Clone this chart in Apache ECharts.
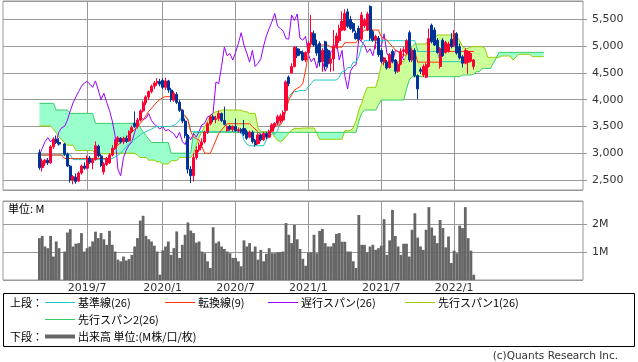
<!DOCTYPE html>
<html><head><meta charset="utf-8">
<script src="https://cdn.jsdelivr.net/npm/echarts@6/dist/echarts.min.js"></script>
<style>html,body{margin:0;padding:0;background:#fff}#c{width:638px;height:362px}</style>
</head><body><div id="c"></div>
<script>
// ---- axis / time frame ----
const START_DATE = '2018-12-03';   // first weekly slot at left edge
const WEEK_COUNT = 208;            // weekly slots across the plot
const FIRST = 13;                  // slot of first candle / indicator value
const CHIKOU_SHIFT = 25;
const tickLabels = ['2019/7','2020/1','2020/7','2021/1','2021/7','2022/1'];
const priceTicks = [2500,3000,3500,4000,4500,5000,5500];
const volumeTicks = [1,2];

// ---- weekly candles (from slot FIRST) ----
const opens = [3010,2730,2820,2870,2820,3120,3260,3200,'-',3170,2980,2760,2500,2550,2480,2630,2760,2720,2910,2820,2880,3130,2950,2650,2790,2820,
2966,3091,3215,3280,3210,3280,3230,3400,3560,3500,3620,3790,3940,4050,4150,4250,4310,4340,4360,4230,4350,4180,3990,4100,3950,3800,3600,3330,2700,2580,2920,3060,3150,3210,3390,3550,3680,3630,3650,3740,
3610,3420,3500,3440,3500,3420,3440,3460,3400,3300,3390,3240,3180,3340,3250,3370,3300,3410,3500,3560,3600,3620,3800,4420,4500,4620,4950,4900,4880,4740,4880,5050,
5230,5020,5050,4710,5080,4920,4680,4760,5000,5100,5300,5300,5640,5500,5420,5240,5330,5130,5380,5300,5740,5270,5110,5150,4920,4700,4700,4600,4900,4740,4530,4660,4900,4870,5250,4740,4920,4450,4560,4460,4420,4620,5390,5300,5110,4620,5110,4880,4900,5130,5000,5230,4990,4800,4680,4700,4720,4620];
const highs = [3070,2900,2890,2910,3150,3300,3330,3280,'-',3190,3010,2780,2590,2620,2660,2790,2830,2960,2950,2910,3220,3160,2990,2830,2930,3000,
3150,3260,3320,3300,3310,3330,3430,3520,3780,3660,3820,3980,4080,4170,4280,4350,4400,4390,4400,4410,4370,4220,4160,4140,3990,3820,3650,3360,2760,3000,3130,3200,3280,3420,3580,3720,3720,3700,3800,3760,
3870,3520,3530,3520,3650,3480,3470,3620,3440,3420,3420,3270,3380,3370,3400,3400,3440,3560,3580,3720,3740,3800,4360,4450,4680,5000,4990,4950,4920,4900,5100,5580,
5290,5120,5090,4960,5100,4950,4860,5300,5250,5400,5650,5690,5700,5560,5450,5290,5380,5640,5520,5640,5760,5300,5210,5190,4960,4800,4740,4870,4940,4760,4700,4960,4980,5130,5290,4960,4960,4470,4600,4660,4680,5330,5420,5350,5150,4980,5150,5100,5080,5240,5300,5260,5050,4830,4960,4920,4880,4760];
const lows = [2690,2660,2760,2780,2800,3080,3170,3140,'-',2950,2740,2450,2420,2430,2460,2600,2690,2700,2800,2700,2860,2920,2740,2600,2760,2800,
2940,3060,3160,3180,3170,3190,3210,3370,3470,3460,3590,3760,3900,3990,4120,4200,4260,4250,4200,4180,4130,3960,3960,3920,3770,3560,3280,2620,2440,2470,2880,3020,3100,3180,3360,3520,3580,3560,3600,3580,
3520,3400,3420,3400,3400,3380,3370,3320,3250,3280,3180,3120,3160,3220,3230,3260,3280,3390,3460,3520,3560,3590,3780,4250,4480,4600,4780,4820,4720,4700,4850,5020,
4990,4820,4620,4520,4560,4600,4520,4530,4950,5060,5280,5280,5340,5300,5250,5120,5100,5100,5340,5280,5100,5080,4950,4800,4680,4640,4560,4580,4690,4480,4500,4640,4800,4850,4700,4700,4420,4010,4480,4420,4400,4600,5050,5000,4860,4580,4800,4860,4880,4960,4980,4840,4750,4600,4660,4480,4700,4560];
const closes = [2730,2850,2870,2820,3120,3260,3200,3170,'-',2980,2760,2500,2560,2470,2630,2760,2720,2910,2830,2880,3140,2950,2770,2800,2900,2966,
3091,3215,3290,3210,3280,3220,3400,3480,3500,3620,3790,3940,4050,4150,4250,4310,4340,4290,4230,4350,4180,4000,4120,3950,3800,3600,3330,2700,2580,2920,3060,3150,3210,3390,3550,3680,3630,3650,3740,3610,
3540,3500,3450,3500,3420,3440,3400,3360,3280,3390,3220,3160,3340,3250,3370,3300,3410,3530,3560,3680,3700,3760,4330,4300,4620,4980,4820,4860,4740,4880,5050,5250,
5020,4870,4700,4920,4620,4680,4760,5000,5190,5330,5460,5610,5370,5330,5280,5140,5130,5580,5480,5600,5150,5110,5180,4840,4710,4780,4590,4840,4720,4530,4660,4900,4930,5100,4740,4920,4450,4200,4530,4620,4650,5140,5080,5020,4880,4950,4820,5070,5040,4990,5230,4870,4780,4680,4920,4900,4860,4740];
// volume in millions (from slot FIRST)
const volumes = [1.50,1.58,1.20,1.14,1.58,0.84,1.38,1.14,0,1.02,1.70,1.82,1.20,1.30,1.32,1.68,1.02,1.14,
1.20,1.38,1.73,1.50,1.68,1.46,1.26,1.76,1.26,1.02,
0.73,0.67,0.84,0.70,0.75,0.90,1.20,1.50,2.13,2.30,
1.58,1.46,1.38,1.23,1.02,0.19,1.06,1.20,1.38,0.90,
1.14,1.74,0.79,1.26,1.62,2.06,1.77,1.68,1.34,1.38,
1.02,0.96,0.67,0.43,1.89,1.32,1.38,1.20,1.11,1.02,
0.96,0.79,0.79,0.67,0.49,1.42,1.20,1.32,1.02,1.20,
0.73,1.08,0.67,0.94,1.14,0.96,0.96,0.99,1.00,1.02,
2.04,1.62,1.32,1.97,1.46,1.11,0.76,0.51,0.99,0.99,
1.62,0.96,1.76,1.83,1.32,1.20,1.20,1.32,1.65,1.68,
1.37,1.37,1.02,1.02,0.67,0.43,2.33,1.26,1.26,0.99,
1.20,1.26,1.08,1.14,1.23,2.18,0.90,1.42,2.51,1.58,
1.20,0.90,1.30,1.30,0.84,1.80,2.39,1.52,1.20,1.08,
1.80,2.61,1.88,1.59,1.32,2.15,1.86,1.17,1.56,0.61,
1.05,0.96,1.95,1.86,2.61,1.50,1.05,0.19];

// ---- ichimoku lines (from slot FIRST) ----
const tenkan = [2966,2966,2966,2966,2966,2966,2966,2966,2966,
2900,2900,2900,2900,2900,2900,2900,2900,2900,2900,2900,2900,2900,2900,2900,2900,2900,
3029,3091,3153,3197,3247,3300,3340,3400,3440,3495,3560,3620,3700,3780,3840,3900,3960,4000,4040,
4056,4056,4056,4056,
3990,3900,3760,3700,3620,3402,3300,3270,3246,3122,3000,2997,2997,3122,3246,3371,3433,3500,
3550,3550,3550,3550,3550,3550,3550,3550,3550,
3500,3450,3402,3340,3340,3340,3371,3464,
3526,3526,3526,
3620,3806,3993,4087,4180,4210,4242,4304,4553,4864,5051,5082,
5020,5020,5020,5020,5020,
4980,4980,4980,4980,4980,
5063,5063,5063,5063,5063,
5150,5238,
5300,5300,5300,5300,5300,5300,
5176,5144,5113,5051,4990,4927,4895,4864,4833,4833,
4895,4895,4895,
4700,4700,4700,4700,4700,4700,4700,4700,4700,
4900,4900,4900,4900,4900,4900,4900,4900,4900,4900,4900,4900];
const kijun = [2966,2966,2966,2966,2966,2966,2966,2966,2966,
2970,2970,2970,
2880,2880,2880,2880,2880,2880,2880,2880,2880,2880,2880,2880,2880,2880,
2900,2930,2960,3000,3060,3120,3180,3230,3260,3300,3340,3380,3400,3430,3450,3480,
3500,3500,3500,3500,3500,3500,
3520,3560,3620,3680,3680,3650,
3402,3402,3402,3402,3402,3402,3402,3402,3402,3402,3402,3402,3402,3402,3402,3402,3402,3402,3402,
3250,3170,
3140,3140,3140,3140,3140,3140,
3250,3330,3360,3360,3420,3590,3700,3869,4055,4120,
4149,4149,
4170,4170,4170,
4240,4300,
4366,4366,4366,4366,4366,4366,4366,4366,4366,
4420,4522,4522,4600,4600,4700,4700,4802,5000,
5101,5101,5101,5101,5101,5101,5101,5101,5101,5101,5101,5101,5101,5101,5101,5101,5101,5101,5101,
4900,4900,4900,4900,4900,4900,4900,4900,
4709,4709,4709,4709,4709,4709,4709,4709,4709,4709,4709,4709,4709];
// leading spans, from slot FIRST to FIRST+180
const spanA = [3508,3508,3508,3508,3508,
3450,3380,3300,3250,3200,
3150,3150,3150,
3050,3050,3050,3050,3050,3050,3050,
2990,2990,2990,2990,2990,2990,
3000,3000,3000,3000,3000,3000,3000,3000,3000,
2960,
2920,2920,2920,
2870,2870,2870,
2840,2840,
2800,2800,2800,
2860,2860,2860,
2920,2920,2920,2920,2920,
3000,3150,3300,3400,3500,3600,3700,3744,
3775,3775,
3806,3806,3806,3806,3806,3806,3806,3806,
3775,3775,
3744,3744,3744,
3480,
3400,3400,3400,3400,3400,
3300,3240,3215,3246,3309,3371,3433,
3464,3464,3464,
3470,3470,3470,3470,3470,
3371,
3260,3260,3260,3260,3260,3260,3260,3260,3260,
3420,3420,3420,
3480,3600,3806,3931,4100,
4230,4230,4230,4230,
4400,4647,
4709,4709,4709,4709,4709,4709,4709,4709,
4850,4927,4989,
5040,5040,5040,5040,5040,
5130,5130,5130,
5207,5207,5207,5207,5207,5207,5207,
5176,5100,4989,
4958,4958,
4989,4989,4989,4989,4989,
4958,
4790,4790,4790,4790,4790,
4815,4815,4815,4815,
4740,4790,
4846,4846,4846,4846,4846,
4802,4802,4802,4802,4802];
const spanB = [3930,3930,3930,3930,3930,3930,
3807,3807,3807,3807,3807,
3744,3744,3744,3744,3744,3744,3744,3744,3744,
3557,3557,3557,3557,3557,3557,3557,3557,3557,3557,3557,3557,3557,3557,3557,3557,
3480,3400,3330,3260,
3200,3200,3200,3200,3200,3200,3200,
3000,3000,3000,3000,3000,3000,3000,3000,
3390,3390,3390,3390,3390,3390,3390,3390,3390,3390,3390,3390,3390,3390,3390,3390,3390,3390,3390,3390,
3390,3390,3390,3390,3390,3390,3390,3390,3390,3390,3390,3390,3390,3390,3390,3390,3390,3390,3390,3390,
3390,3390,3390,3390,3390,3390,3390,3390,3390,3390,3390,3390,3390,3390,3390,3390,3390,3390,3390,
3600,3744,
3806,3806,3806,3806,3806,
3900,
3993,3993,3993,3993,3993,3993,3993,3993,3993,
4200,4366,
4429,4429,4429,4429,4429,4429,4429,4429,4429,4429,4429,4429,4429,4429,4429,4429,4429,4429,
4460,4460,4460,4460,
4478,
4522,4522,
4584,4584,4584,4584,
4680,4771,
4883,4883,4883,4883,4883,4883,4883,4883,4883,4883,4883,4883,4883,4883,4883,4883,4883];

// ---- styling ----
const C = {
  grid:'#999999', up:'#ff0033', down:'#003399', vol:'#666666',
  kijun:'#1ec8c8', tenkan:'#ff3300', chikou:'#9900ff', spanA:'#99cc00', spanB:'#33cc66',
  cloudUp:'#ccff99', cloudDown:'#99ffcc', text:'#333333'
};
const AX_FONT = 'DejaVu Sans';
const JP_FONT = '"Noto Sans CJK JP"';

// ---- build ----
function pad(arr, start){ const out = new Array(WEEK_COUNT).fill('-'); arr.forEach((v,i)=>{ out[start+i] = v; }); return out; }
const weeks = [];
{ const d0 = new Date(START_DATE + 'T00:00:00Z');
  for (let i=0;i<WEEK_COUNT;i++){ const d = new Date(d0.getTime() + i*7*86400000);
    weeks.push({y:d.getUTCFullYear(), m:d.getUTCMonth()+1, d:d.getUTCDate()}); } }
const catData = weeks.map(w => w.y + '/' + w.m + '/' + w.d);
function monthLabel(i){ return weeks[i].y + '/' + weeks[i].m; }
function isTick(i){ return (i===0 || weeks[i].m !== weeks[i-1].m) && tickLabels.indexOf(monthLabel(i)) >= 0; }

const candleData = pad(opens.map((o,i)=> o==='-' ? '-' : [o, closes[i], lows[i], highs[i]]), FIRST);
const volData = pad(volumes.map(v => v===0 ? '-' : v), FIRST);
const chikouData = new Array(WEEK_COUNT).fill('-');
for (let i=FIRST;i<WEEK_COUNT;i++){ const k = i + CHIKOU_SHIFT - FIRST; if (k < closes.length && closes[k] !== '-') chikouData[i] = closes[k]; }
const cloudBase = pad(spanA.map((a,i)=>Math.min(a, spanB[i])), FIRST);
const cloudUp = pad(spanA.map((a,i)=>Math.max(a - spanB[i], 0)), FIRST);
const cloudDown = pad(spanA.map((a,i)=>Math.max(spanB[i] - a, 0)), FIRST);

function fmtNum(v){ return String(v).replace(/\B(?=(\d{3})+(?!\d))/g, ','); }

function lineSeries(name, data, color, z){
  return {name, type:'line', data, xAxisIndex:0, yAxisIndex:0, symbol:'none', showSymbol:false,
    lineStyle:{color, width:1}, itemStyle:{color}, z, silent:true, animation:false};
}

const legendRows = [
  {y:302.5, items:[{x:45, color:C.kijun, text:'基準線(26)'},{x:165,color:C.tenkan,text:'転換線(9)'},{x:268,color:C.chikou,text:'遅行スパン(26)'},{x:405,color:C.spanA,text:'先行スパン1(26)'}], head:'上段：'},
  {y:319.5, items:[{x:45, color:C.spanB, text:'先行スパン2(26)'}], head:''},
  {y:336.5, items:[{x:45, color:C.vol, text:'出来高 単位:(M株/口/枚)', w:4}], head:'下段：'}
];
const graphics = [
  {type:'rect', shape:{x:3.5,y:293.5,width:631,height:53}, style:{fill:'none', stroke:'#000', lineWidth:1}, silent:true},
  {type:'text', x:8, y:209, style:{text:'単位: M', font:'11px ' + JP_FONT, fill:'#000', verticalAlign:'middle'}, silent:true},
  {type:'text', x:618, y:356, style:{text:'(c)Quants Research Inc.', font:'10.5px ' + AX_FONT, fill:C.text, align:'right', verticalAlign:'middle'}, silent:true}
];
legendRows.forEach(r=>{
  if (r.head) graphics.push({type:'text', x:10, y:r.y, style:{text:r.head, font:'11px ' + JP_FONT, fill:'#000', verticalAlign:'middle'}, silent:true});
  r.items.forEach(it=>{
    graphics.push({type:'line', shape:{x1:it.x, y1:r.y, x2:it.x+30, y2:r.y}, style:{stroke:it.color, lineWidth:it.w||1}, silent:true});
    graphics.push({type:'text', x:it.x+33, y:r.y, style:{text:it.text, font:'11px ' + JP_FONT, fill:'#000', verticalAlign:'middle'}, silent:true});
  });
});

const splitLineX = {show:true, interval:(i)=>isTick(i), lineStyle:{color:C.grid, width:1}};
const option = {
  animation:false,
  backgroundColor:'#fff',
  grid:[
    {left:3, top:1, width:580, height:189, show:true, borderColor:C.grid, borderWidth:1, backgroundColor:'transparent'},
    {left:3, top:201, width:580, height:79, show:true, borderColor:C.grid, borderWidth:1, backgroundColor:'transparent'}
  ],
  xAxis:[
    {type:'category', gridIndex:0, data:catData, boundaryGap:false, axisLine:{show:false}, axisTick:{show:false}, axisLabel:{show:false}, splitLine:splitLineX},
    {type:'category', gridIndex:1, data:catData, boundaryGap:false, axisLine:{show:false}, axisTick:{show:false},
     axisLabel:{show:true, interval:(i)=>isTick(i), formatter:(v,i)=>monthLabel(i), color:C.text, fontFamily:AX_FONT, fontSize:11, margin:3},
     splitLine:splitLineX}
  ],
  yAxis:[
    {type:'value', gridIndex:0, position:'right', min:2313, max:5842, splitNumber:7, scale:true,
     axisLine:{show:false}, axisTick:{show:true, length:4, lineStyle:{color:C.grid}},
     axisLabel:{show:true, showMinLabel:false, showMaxLabel:false, margin:9, color:C.text, fontFamily:AX_FONT, fontSize:11,
       formatter:(v)=> priceTicks.indexOf(v)>=0 ? fmtNum(v) : ''},
     splitLine:{show:true, lineStyle:{color:C.grid, width:1}}},
    {type:'value', gridIndex:1, position:'right', min:0, max:2.83, interval:1,
     axisLine:{show:false}, axisTick:{show:true, length:4, lineStyle:{color:C.grid}},
     axisLabel:{show:true, showMinLabel:false, showMaxLabel:false, margin:9, color:C.text, fontFamily:AX_FONT, fontSize:11,
       formatter:(v)=> volumeTicks.indexOf(v)>=0 ? v + 'M' : ''},
     splitLine:{show:true, lineStyle:{color:C.grid, width:1}}}
  ],
  series:[
    {name:'cloudBase', type:'line', stack:'cloud', data:cloudBase, symbol:'none', lineStyle:{opacity:0, width:0}, z:1, silent:true},
    {name:'cloudUp', type:'line', stack:'cloud', data:cloudUp, symbol:'none', lineStyle:{opacity:0, width:0}, areaStyle:{color:C.cloudUp, opacity:1}, z:1, silent:true},
    {name:'cloudDown', type:'line', stack:'cloud', data:cloudDown, symbol:'none', lineStyle:{opacity:0, width:0}, areaStyle:{color:C.cloudDown, opacity:1}, z:1, silent:true},
    lineSeries('先行スパン1', pad(spanA, FIRST), C.spanA, 2),
    lineSeries('先行スパン2', pad(spanB, FIRST), C.spanB, 2),
    lineSeries('遅行スパン', chikouData, C.chikou, 3),
    lineSeries('基準線', pad(kijun, FIRST), C.kijun, 3),
    lineSeries('転換線', pad(tenkan, FIRST), C.tenkan, 3),
    {name:'candle', type:'candlestick', xAxisIndex:0, yAxisIndex:0, data:candleData, barWidth:2.6, z:4, silent:true,
     itemStyle:{color:C.up, color0:C.down, borderColor:C.up, borderColor0:C.down, borderWidth:1}},
    {name:'volume', type:'bar', xAxisIndex:1, yAxisIndex:1, data:volData, barWidth:2.8, itemStyle:{color:C.vol}, silent:true}
  ],
  graphic: graphics
};
const chart = echarts.init(document.getElementById('c'), null, {renderer:'canvas'});
chart.setOption(option);
</script></body></html>
